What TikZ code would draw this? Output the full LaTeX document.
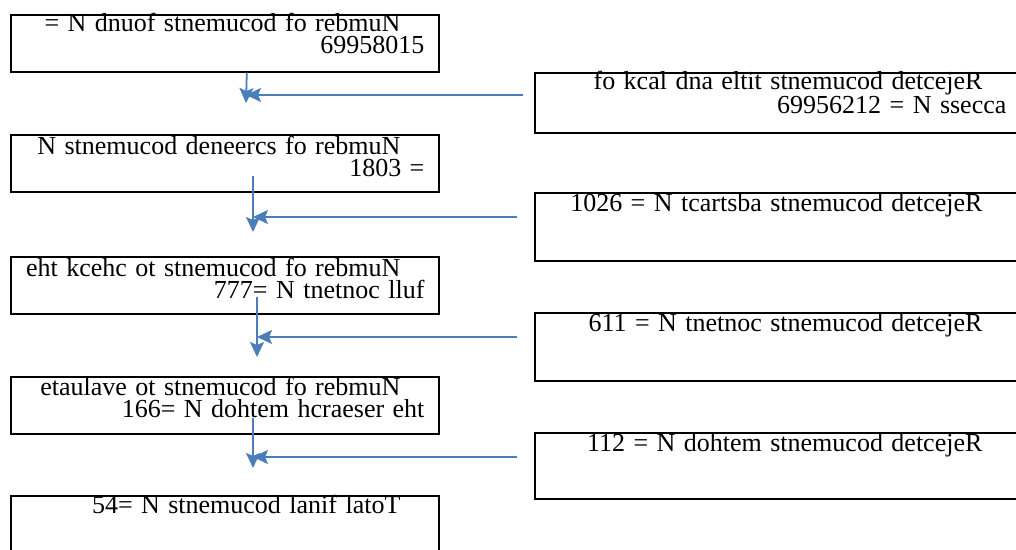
\documentclass[tikz,border=0pt]{standalone}
\usepackage{fontspec}
\setmainfont{Liberation Serif}[WordSpace=1.3]
\usetikzlibrary{arrows.meta,positioning,calc}
\definecolor{flowblue}{HTML}{4A7EBB}
\newcommand{\gap}{\hspace*{24pt}}
\tikzset{
  stagebox/.style={draw=black, line width=1.6pt, rectangle, anchor=north west, inner sep=0pt},
  lbox/.style={stagebox, minimum width=428pt, minimum height=57pt},
  rbox/.style={stagebox, minimum width=486pt},
  stagetxt/.style={anchor=base east, align=right, inner sep=0pt,
                   font=\fontsize{26}{22}\selectfont},
  arr/.style={-{Stealth[length=15pt,width=14pt,inset=3pt]}, line width=1.8pt, color=flowblue}}

\begin{document}
\begin{tikzpicture}[x=1pt,y=-1pt]
  \useasboundingbox (0,0) rectangle (1016,549);

  % left column (base of a two-line text is its last line)
  \node[lbox] (found) at (10,14) {};
  \node[stagetxt] (foundtxt) at ([xshift=-15pt,yshift=-39pt]found.north east)
    {= N dnuof stnemucod fo rebmuN\gap\\69958015};
  \node[lbox] (screened) at (10,134) {};
  \node[stagetxt] (screenedtxt) at ([xshift=-15pt,yshift=-42pt]screened.north east)
    {N stnemucod deneercs fo rebmuN\gap\\1803 =};
  \node[lbox] (checked) at (10,256) {};
  \node[stagetxt] (checkedtxt) at ([xshift=-15pt,yshift=-42pt]checked.north east)
    {eht kcehc ot stnemucod fo rebmuN\gap\\777= N tnetnoc lluf};
  \node[lbox] (evaluated) at (10,376) {};
  \node[stagetxt] (evaluatedtxt) at ([xshift=-15pt,yshift=-41pt]evaluated.north east)
    {etaulave ot stnemucod fo rebmuN\gap\\166= N dohtem hcraeser eht};
  \node[lbox] (final) at (10,495) {};
  \node[stagetxt] (finaltxt) at ([xshift=-15pt,yshift=-18pt]final.north east)
    {54= N stnemucod lanif latoT\gap};

  % right column
  \node[rbox, minimum height=60pt] (rejtitle) at (534,72) {};
  \node[stagetxt, font=\fontsize{26}{20}\selectfont] (rejtitletxt)
    at ([xshift=-15pt,yshift=-41pt]rejtitle.north east)
    {fo kcal dna eltit stnemucod detcejeR\gap\\69956212 = N ssecca};
  \node[rbox, minimum height=68pt] (rejabs) at (534,192) {};
  \node[stagetxt] (rejabstxt) at ([xshift=-15pt,yshift=-19pt]rejabs.north east)
    {1026 = N tcartsba stnemucod detcejeR\gap};
  \node[rbox, minimum height=68pt] (rejcont) at (534,312) {};
  \node[stagetxt] (rejconttxt) at ([xshift=-15pt,yshift=-19pt]rejcont.north east)
    {611 = N tnetnoc stnemucod detcejeR\gap};
  \node[rbox, minimum height=66pt] (rejmeth) at (534,432) {};
  \node[stagetxt] (rejmethtxt) at ([xshift=-15pt,yshift=-19pt]rejmeth.north east)
    {112 = N dohtem stnemucod detcejeR\gap};

  % joints of the arrows
  \coordinate (s2) at (253,176);
  \coordinate (s3) at (257,297);
  \coordinate (s4) at (253,418);
  \coordinate (m1) at (246,103);
  \coordinate (m2) at (253,232);
  \coordinate (m3) at (257,357);
  \coordinate (m4) at (253,468);
  \coordinate (e1) at (523,95);
  \coordinate (e2) at (517,217);
  \coordinate (e3) at (517,337);
  \coordinate (e4) at (517,457);

  \draw[arr] ([xshift=22pt]found.south) -- (m1);
  \draw[arr] (e1) -- (m1 |- e1);
  \draw[arr] (s2) -- (m2);
  \draw[arr] (e2) -- (m2 |- e2);
  \draw[arr] (s3) -- (m3);
  \draw[arr] (e3) -- (m3 |- e3);
  \draw[arr] (s4) -- (m4);
  \draw[arr] (e4) -- (m4 |- e4);
\end{tikzpicture}
\end{document}
